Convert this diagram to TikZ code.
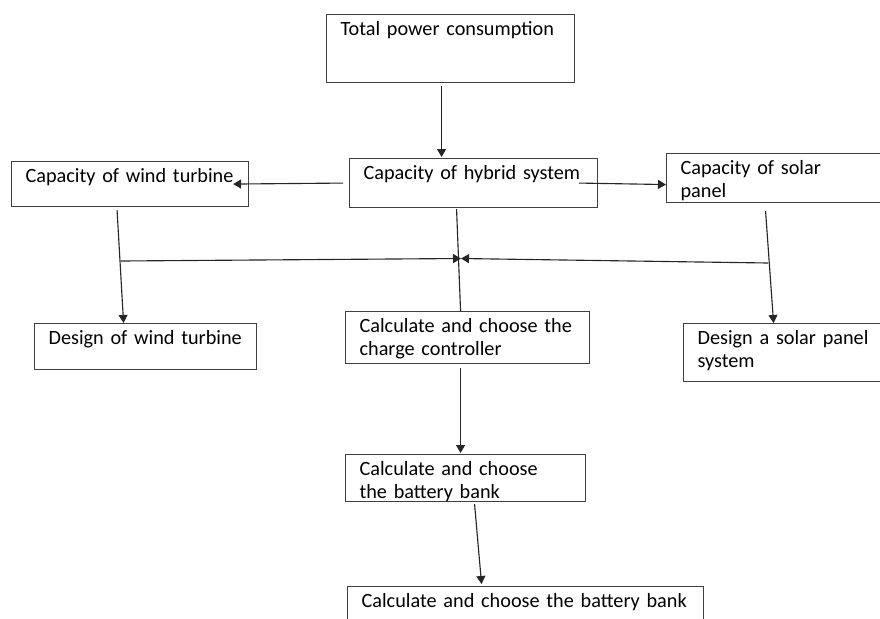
\documentclass[tikz,border=0pt]{standalone}
\usepackage{fontspec}
\setmainfont{Carlito}
\usetikzlibrary{arrows.meta}
\newlength{\pxu}
\setlength{\pxu}{0.025cm}

\begin{document}
\begin{tikzpicture}[x=0.025cm, y=-0.025cm,
    box/.style={draw=black!75, line width=0.8pt, anchor=north west, align=left,
        inner xsep=0pt, inner ysep=0pt, text height=21\pxu,
        execute at begin node={\leftskip=14\pxu\hyphenpenalty=10000},
        font=\fontsize{14.4}{16.3}\selectfont},
    arr/.style={draw=black!85, line width=0.8pt, -{Triangle[length=0.2cm, width=0.225cm]}},
    ln/.style={draw=black!85, line width=0.8pt}]
    \path[use as bounding box, fill=white] (0,0) rectangle (880,618);

    \node[box, text width=248\pxu, text depth=47\pxu] (total) at (326,14) {Total power consumption};
    \node[box, text width=237\pxu, text depth=24\pxu] (windcap) at (11,161) {Capacity of wind turbine};
    \node[box, text width=248\pxu, text depth=28\pxu] (hybrid) at (349,158) {Capacity of hybrid system};
    \node[box, text width=230\pxu, text depth=28\pxu] (solarcap) at (666,153) {Capacity of solar\\panel};
    \node[box, text width=222\pxu, text depth=25\pxu] (designwind) at (34,323) {Design of wind turbine};
    \node[box, text width=244\pxu, text depth=31\pxu] (charge) at (345,311) {Calculate and choose the\\charge controller};
    \node[box, text width=210\pxu, text depth=37\pxu] (designsolar) at (683,323) {Design a solar panel\\system};
    \node[box, text width=240\pxu, text depth=26\pxu] (battery) at (345,454) {Calculate and choose\\the battery bank};
    \node[box, text width=356\pxu, text depth=29\pxu] (bank) at (347,586) {Calculate and choose the battery bank};

    % joints of the two side branches
    \coordinate (windtap) at (121,261);
    \coordinate (solartap) at (768,263);
    \coordinate (meet) at (461,258.5);

    \draw[arr] ([xshift=-9\pxu, yshift=-3\pxu]total.south) -- ([xshift=-32\pxu, yshift=1\pxu]hybrid.north);
    \draw[arr] ([xshift=-6\pxu]hybrid.west) -- ([xshift=-16\pxu]windcap.east);
    \draw[arr] ([xshift=-19\pxu]hybrid.east) -- ([yshift=-6.5\pxu]solarcap.west);
    \draw[arr] ([xshift=-13\pxu, yshift=-3\pxu]windcap.south) -- ([xshift=-22\pxu]designwind.north);
    \draw[arr] ([xshift=-16\pxu, yshift=-8\pxu]solarcap.south) -- ([xshift=-15\pxu]designsolar.north);
    \draw[ln] ([xshift=-17\pxu, yshift=-1\pxu]hybrid.south) -- ([xshift=-7\pxu]charge.north);
    \draw[arr] (windtap) -- (meet);
    \draw[arr] (solartap) -- (meet);
    \draw[arr] ([xshift=-7\pxu, yshift=-4\pxu]charge.south) -- ([xshift=-5\pxu, yshift=1\pxu]battery.north);
    \draw[arr] ([xshift=9\pxu, yshift=-2\pxu]battery.south) -- ([xshift=-44\pxu, yshift=2\pxu]bank.north);
\end{tikzpicture}
\end{document}
